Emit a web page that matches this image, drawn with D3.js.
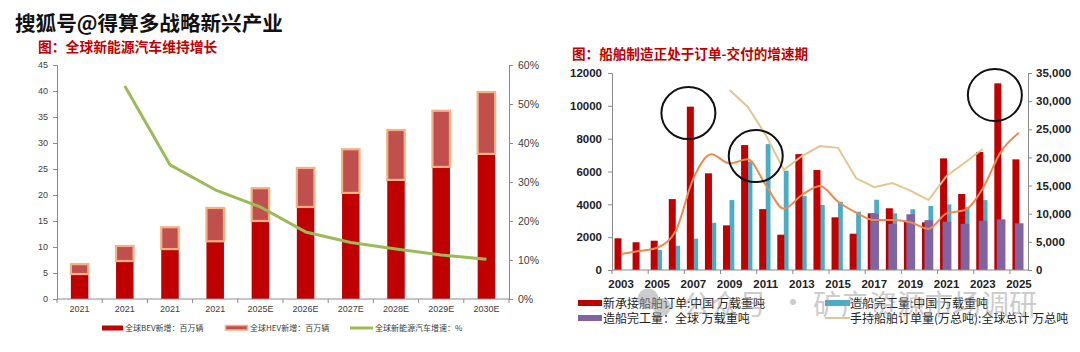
<!DOCTYPE html>
<html><head><meta charset="utf-8">
<script src="https://cdn.jsdelivr.net/npm/d3@7"></script>
<style>
html,body{margin:0;padding:0;background:#fff;}
text{font-family:"Liberation Sans","Noto Sans CJK SC",sans-serif;}
</style></head>
<body>
<script>
// ---------- Left chart data ----------
const leftCats = ["2021","2021","2021","2021","2025E","2026E","2027E","2028E","2029E","2030E"];
const bevNew = [4.8, 7.3, 9.6, 11.1, 15.0, 17.7, 20.4, 22.9, 25.4, 27.9];
const hevNew = [1.9, 2.9, 4.2, 6.4, 6.3, 7.5, 8.4, 9.6, 10.8, 11.9];
const nevGrowth = [null, 54.6, 34.4, 28.0, 23.6, 17.2, 14.5, 12.8, 11.3, 10.2];
const leftTicks = [0,5,10,15,20,25,30,35,40,45];
const pctTicks = [0,10,20,30,40,50,60];

// ---------- Right chart data ----------
const years = ["2003","2004","2005","2006","2007","2008","2009","2010","2011","2012","2013","2014","2015","2016","2017","2018","2019","2020","2021","2022","2023","2024","2025"];
const chinaNewOrders = [1930,1690,1785,4320,9950,5890,2720,7610,3710,2150,7060,6090,3210,2210,3450,3760,2940,2900,6800,4630,7190,11370,6740];
const chinaCompletions = [null,null,1220,1480,1910,2880,4260,6600,7670,6050,4500,3960,4160,3550,4280,3450,3700,3900,4000,3820,4260,null,null];
const globalCompletions = [null,null,null,null,null,null,null,null,null,null,null,null,null,null,10000,8200,9900,8850,8580,8200,8760,9000,8300];
const chinaOrderbook = [2840,3370,3960,6800,16290,20550,18950,19660,15100,10900,13320,14920,12130,10180,8880,8880,8470,7300,10070,10660,14510,21010,24390];
const globalOrderbook = [null,null,null,null,null,null,31970,29000,24000,17760,20250,22020,21700,16290,14700,15450,14090,12430,16700,19060,21500,null,null];
const rLeftTicks = [0,2000,4000,6000,8000,10000,12000];
const rRightTicks = [0,5000,10000,15000,20000,25000,30000,35000];
const rLabelYears = ["2003","2005","2007","2009","2011","2013","2015","2017","2019","2021","2023","2025"];
const highlights = [{year:"2007", dx:-5, v:9560}, {year:"2011", dx:-10, v:6940}, {year:"2024", dx:-6, v:10660}];

const svg = d3.select("body").append("svg").attr("width",1080).attr("height",352)
  .style("display","block");
svg.append("rect").attr("width",1080).attr("height",352).attr("fill","#fff");

// ---------- Header ----------
svg.append("text").attr("x",15).attr("y",31).text("搜狐号@得算多战略新兴产业")
  .attr("font-size",20.6).attr("font-weight","bold").attr("fill","#111")
  .attr("stroke","#fff").attr("stroke-width",1.2).attr("paint-order","stroke")
  .style("font-family","'Noto Sans CJK SC',sans-serif");
svg.append("text").attr("x",38).attr("y",52).text("图：全球新能源汽车维持增长")
  .attr("font-size",13.8).attr("font-weight","bold").attr("fill","#C00000")
  .style("font-family","'Noto Sans CJK SC',sans-serif");
svg.append("text").attr("x",572).attr("y",59).text("图：船舶制造正处于订单-交付的增速期")
  .attr("font-size",13.6).attr("font-weight","bold").attr("fill","#C00000")
  .style("font-family","'Noto Sans CJK SC',sans-serif");

// ---------- Left chart ----------
const L = svg.append("g");
const xL = d3.scaleBand().domain(d3.range(leftCats.length)).range([57,509]);
const yL = d3.scaleLinear().domain([0,45]).range([299,65]);
const yP = d3.scaleLinear().domain([0,60]).range([299,65]);
const bwL = 17.5;

function styleAxis(g, size, color, weight){
  g.select(".domain").attr("stroke","#8a8a8a");
  g.selectAll(".tick line").attr("stroke","#8a8a8a");
  g.selectAll(".tick text").attr("fill",color).attr("font-size",size)
    .attr("font-weight",weight||"normal").style("font-family","'Liberation Sans',sans-serif");
}

L.selectAll("rect.bev").data(bevNew).join("rect").attr("class","bev")
  .attr("x",(d,i)=>xL(i)+(xL.bandwidth()-bwL)/2).attr("width",bwL)
  .attr("y",d=>yL(d)).attr("height",d=>yL(0)-yL(d)).attr("fill","#C00000");
L.selectAll("rect.hev").data(hevNew).join("rect").attr("class","hev")
  .attr("x",(d,i)=>xL(i)+(xL.bandwidth()-bwL)/2).attr("width",bwL)
  .attr("y",(d,i)=>yL(bevNew[i]+d)).attr("height",(d,i)=>yL(bevNew[i])-yL(bevNew[i]+d))
  .attr("fill","#C0504D").attr("stroke","#F4B183").attr("stroke-width",2.2);

const lineG = d3.line().defined(d=>d!=null)
  .x((d,i)=>xL(i)+xL.bandwidth()/2).y(d=>yP(d));
L.append("path").datum(nevGrowth).attr("d",lineG).attr("fill","none")
  .attr("stroke","#9BBB59").attr("stroke-width",3).attr("stroke-linejoin","round");

const gyl = L.append("g").attr("transform","translate(57,0)")
  .call(d3.axisLeft(yL).tickValues(leftTicks).tickSize(4).tickPadding(5));
styleAxis(gyl,9,"#404040");
const gyr = L.append("g").attr("transform","translate(509,0)")
  .call(d3.axisRight(yP).tickValues(pctTicks).tickFormat(d=>d+"%").tickSize(4).tickPadding(5));
styleAxis(gyr,10.5,"#404040");
const gxl = L.append("g").attr("transform","translate(0,299)")
  .call(d3.axisBottom(xL).tickFormat(i=>leftCats[i]).tickSize(0).tickPadding(6.5));
styleAxis(gxl,9,"#404040");
gxl.select(".domain").attr("d","M57,0H509");
L.selectAll("line.xbL").data(d3.range(leftCats.length+1)).join("line").attr("class","xbL")
  .attr("x1",i=>57+i*xL.step()).attr("x2",i=>57+i*xL.step())
  .attr("y1",299).attr("y2",303).attr("stroke","#8a8a8a");

const legL = L.append("g");
legL.append("rect").attr("x",102).attr("y",325.5).attr("width",21).attr("height",5).attr("fill","#C00000");
legL.append("text").attr("x",125).attr("y",331).text("全球BEV新增：百万辆");
legL.append("rect").attr("x",225.5).attr("y",325.5).attr("width",22).attr("height",4.5)
  .attr("fill","#C0504D").attr("stroke","#F4B183").attr("stroke-width",1.5);
legL.append("text").attr("x",250).attr("y",331).text("全球HEV新增：百万辆");
legL.append("line").attr("x1",350).attr("x2",373).attr("y1",328).attr("y2",328)
  .attr("stroke","#9BBB59").attr("stroke-width",3);
legL.append("text").attr("x",375).attr("y",331).text("全球新能源汽车增速：%");
legL.selectAll("text").attr("font-size",8).attr("fill","#404040")
  .style("font-family","'Noto Sans CJK SC',sans-serif");

// ---------- Right chart ----------
const xR = d3.scaleBand().domain(years).range([612,1028]);
const yRL = d3.scaleLinear().domain([0,12000]).range([270,73]);
const yRR = d3.scaleLinear().domain([0,35000]).range([270,73]);

const R = svg.append("g");
const rows = years.map((y,i)=>({year:y, no:chinaNewOrders[i], cc:chinaCompletions[i],
  gc:globalCompletions[i], cob:chinaOrderbook[i], gob:globalOrderbook[i]}));

R.selectAll("rect.cc").data(rows.filter(d=>d.cc!=null)).join("rect").attr("class","cc")
  .attr("x",d=>xR(d.year)+9).attr("width",4.8)
  .attr("y",d=>yRL(d.cc)).attr("height",d=>yRL(0)-yRL(d.cc)).attr("fill","#4BACC6");
R.selectAll("rect.no").data(rows).join("rect").attr("class","no")
  .attr("x",d=>xR(d.year)+2.5).attr("width",7)
  .attr("y",d=>yRL(d.no)).attr("height",d=>yRL(0)-yRL(d.no)).attr("fill","#C00000");
R.selectAll("rect.gc").data(rows.filter(d=>d.gc!=null)).join("rect").attr("class","gc")
  .attr("x",d=>xR(d.year)+5).attr("width",8.6)
  .attr("y",d=>yRR(d.gc)).attr("height",d=>yRR(0)-yRR(d.gc)).attr("fill","#8064A2");

const cxR = d=>xR(d.year)+xR.bandwidth()/2;
R.append("path").datum(rows)
  .attr("d",d3.line().defined(d=>d.gob!=null).x(cxR).y(d=>yRR(d.gob)))
  .attr("fill","none").attr("stroke","#E3C58F").attr("stroke-width",2);
R.append("path").datum(rows)
  .attr("d",d3.line().x(cxR).y(d=>yRR(d.cob)).curve(d3.curveMonotoneX))
  .attr("fill","none").attr("stroke","#EE8A50").attr("stroke-width",2);

R.selectAll("ellipse").data(highlights).join("ellipse")
  .attr("cx",d=>xR(d.year)+xR.bandwidth()/2+d.dx).attr("cy",d=>yRL(d.v))
  .attr("rx",27).attr("ry",26).attr("fill","none").attr("stroke","#111").attr("stroke-width",2);

const gRL = R.append("g").attr("transform","translate(612,0)")
  .call(d3.axisLeft(yRL).tickValues(rLeftTicks).tickFormat(d3.format("d")).tickSize(4).tickPadding(6));
styleAxis(gRL,11.5,"#222","bold");
const gRR = R.append("g").attr("transform","translate(1028,0)")
  .call(d3.axisRight(yRR).tickValues(rRightTicks).tickFormat(d3.format(",")).tickSize(4).tickPadding(4));
styleAxis(gRR,11.5,"#222","bold");
const gRX = R.append("g").attr("transform","translate(0,270)")
  .call(d3.axisBottom(xR).tickValues(rLabelYears).tickSize(0).tickPadding(9.8));
styleAxis(gRX,11.5,"#222","bold");
gRX.select(".domain").attr("d","M612,0H1028");
R.selectAll("line.xbR").data(d3.range(0,24,2)).join("line").attr("class","xbR")
  .attr("x1",k=>612+k*xR.step()).attr("x2",k=>612+k*xR.step())
  .attr("y1",270).attr("y2",274).attr("stroke","#8a8a8a");

const legR = svg.append("g");
legR.append("rect").attr("x",578).attr("y",300).attr("width",24).attr("height",6).attr("fill","#C00000");
legR.append("text").attr("x",603).attr("y",307.5).text("新承接船舶订单:中国 万载重吨");
legR.append("rect").attr("x",825).attr("y",300).attr("width",25).attr("height",6).attr("fill","#4BACC6");
legR.append("text").attr("x",850).attr("y",307.5).text("造船完工量:中国 万载重吨");
legR.append("rect").attr("x",578).attr("y",315).attr("width",24).attr("height",6).attr("fill","#8064A2");
legR.append("text").attr("x",603).attr("y",322.5).text("造船完工量：全球 万载重吨");
legR.append("line").attr("x1",825).attr("x2",850).attr("y1",318).attr("y2",318)
  .attr("stroke","#E3C58F").attr("stroke-width",2);
legR.append("text").attr("x",850).attr("y",322.5).text("手持船舶订单量(万总吨):全球总计 万总吨");
legR.selectAll("text").attr("font-size",12).attr("fill","#222")
  .style("font-family","'Noto Sans CJK SC',sans-serif");

// watermark stamped on top, semi-transparent
const wm = svg.append("g").attr("fill","#9a9a9a").attr("opacity",0.5);
wm.append("circle").attr("cx",648).attr("cy",299).attr("r",10.5);
wm.append("circle").attr("cx",662).attr("cy",307).attr("r",9);
wm.append("text").attr("x",683).attr("y",315).text("公众号").attr("font-size",28)
  .style("font-family","'Noto Sans CJK SC',sans-serif");
wm.append("text").attr("x",793).attr("y",313).attr("text-anchor","middle").text("·").attr("font-size",28)
  .style("font-family","'Noto Sans CJK SC',sans-serif");
wm.append("text").attr("x",813).attr("y",315).text("矿产资源市场调研").attr("font-size",28)
  .style("font-family","'Noto Sans CJK SC',sans-serif");
</script>
</body></html>
